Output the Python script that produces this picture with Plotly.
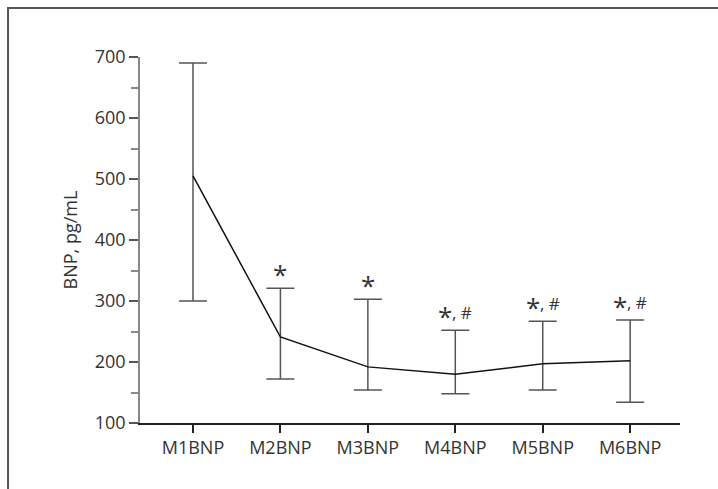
import plotly.graph_objects as go

categories = ["M1BNP", "M2BNP", "M3BNP", "M4BNP", "M5BNP", "M6BNP"]
means = [505, 241, 192, 180, 197, 202]
upper = [690, 321, 303, 252, 267, 269]
lower = [300, 172, 154, 148, 154, 134]
marks = ["", "*", "*", "*, #", "*, #", "*, #"]
y_ticks = [100, 200, 300, 400, 500, 600, 700]

x_idx = list(range(len(categories)))
err_plus = [u - m for u, m in zip(upper, means)]
err_minus = [m - l for m, l in zip(means, lower)]

FONT = "Open Sans, Noto Sans, sans-serif"
TXT = "#333333"

fig = go.Figure()
fig.add_trace(go.Scatter(
    x=x_idx, y=means, mode="lines",
    line=dict(color="#111111", width=1.5),
    error_y=dict(type="data", symmetric=False, array=err_plus, arrayminus=err_minus,
                 color="#555555", thickness=1.5, width=14),
    showlegend=False, hoverinfo="skip",
))

for i, (m, u) in enumerate(zip(marks, upper)):
    if not m:
        continue
    parts = m.split(",")
    star = parts[0]
    if len(parts) == 1:
        fig.add_annotation(x=i, y=u, text=star, showarrow=False, xanchor="center",
                           yanchor="bottom", yshift=-6,
                           font=dict(family=FONT, size=26, color=TXT))
    else:
        fig.add_annotation(x=i, y=u, text=star, showarrow=False, xanchor="center",
                           yanchor="bottom", yshift=-6, xshift=-10,
                           font=dict(family=FONT, size=26, color=TXT))
        fig.add_annotation(x=i, y=u, text=", " + parts[1].strip(), showarrow=False,
                           xanchor="left", yanchor="bottom", yshift=4, xshift=-5,
                           font=dict(family=FONT, size=17, color=TXT))

fig.add_shape(type="path", xref="paper", yref="paper",
              path="M -0.2444 -0.25 L -0.2444 1.1339 L 1.2 1.1339",
              line=dict(color="#555555", width=2))

fig.update_layout(
    width=718, height=489,
    margin=dict(l=140, r=38, t=57, b=66),
    paper_bgcolor="white", plot_bgcolor="white",
    font=dict(family=FONT, size=18, color=TXT),
    xaxis=dict(
        range=[-0.606, 5.57], tickmode="array", tickvals=x_idx, ticktext=categories,
        showgrid=False, zeroline=False, showline=True, linecolor="#222222", linewidth=1.5,
        ticks="outside", ticklen=8, tickcolor="#222222", tickwidth=1.5,
    ),
    yaxis=dict(
        range=[100, 700], tickmode="array", tickvals=y_ticks,
        showgrid=False, zeroline=False, showline=True, linecolor="#888888", linewidth=1.5,
        ticks="outside", ticklen=9, tickcolor="#555555", tickwidth=1.5,
        minor=dict(dtick=50, tick0=0, ticks="outside", ticklen=7, tickcolor="#888888", tickwidth=1.5, showgrid=False),
        title=dict(text="BNP, pg/mL", standoff=12, font=dict(size=18)),
    ),
)

fig.write_html("out.html")
